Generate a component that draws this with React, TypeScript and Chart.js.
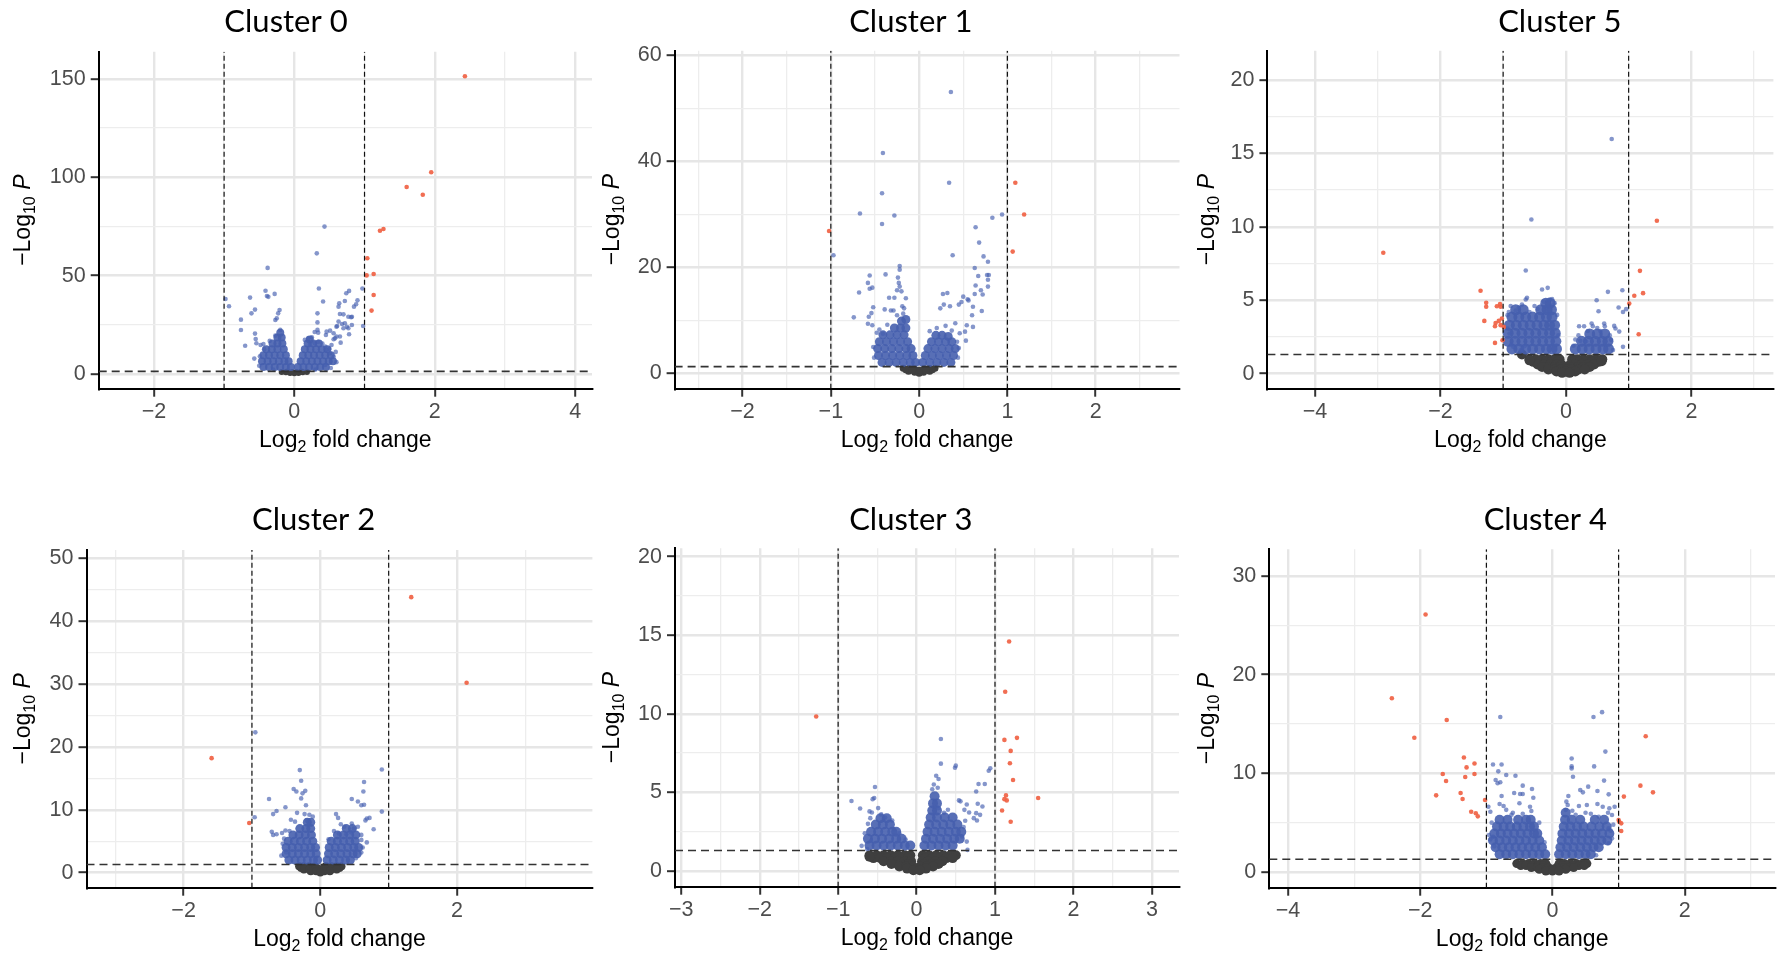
import React, { useEffect, useRef } from 'react';
import { Chart, registerables } from 'chart.js';
Chart.register(...registerables);

type P = [number, number];

// ---------------- thresholds ----------------
const FC_CUT = [-1, 1];
const P_CUT = 1.3;

// ---------------- Cluster 0 ----------------
const C0_RED: P[] = [[2.43,151.3],[1.95,102.5],[1.6,95.0],[1.83,91.1],[1.22,72.8],[1.27,73.7],[1.04,58.8],[1.03,50.1],[1.13,50.8],[1.13,40.1],[1.1,32.2]];
const C0_BLUE: P[] = [[0.43,74.9],[0.32,61.3],[-0.38,53.9],[-0.98,38.1],[-0.93,34.4],[-0.41,42.3],[-0.63,38.8],[-0.39,39.6],[-0.37,39.2],[-0.28,40.7],[-0.56,32.7],[-0.61,30.8],[-0.76,27.6],[-0.76,22.3],[-0.56,20.5],[-0.55,17.8],[-0.54,15.6],[-0.7,14.3],[-0.57,7.8],[-0.21,32.5],[-0.23,30.8],[-0.25,28.3],[-0.27,27.4],[-0.2,22.4],[-0.48,14.7],[-0.44,15.2],
[0.35,43.4],[0.41,36.8],[0.33,30.8],[0.33,26.2],[0.33,22.4],[0.97,43.4],[0.98,24.4],[0.78,42.2],[0.74,41.0],[0.9,37.4],[0.88,35.4],[0.72,37.1],[0.64,35.9],[0.63,34.2],[0.85,34.2],[0.65,30.5],[0.7,30.3],[0.81,28.8],[0.63,26.6],[0.72,25.8],[0.61,24.4],[0.77,23.2],[0.78,20.2],[0.51,22.0],[0.29,21.3],[0.45,19.8],[0.65,19.0],[0.58,18.1],[0.66,15.9],[0.34,21.0],[0.46,21.5],[0.2,18.1],[0.25,18.6],[0.56,20.7],[0.6,19.0],[0.56,17.6],[0.6,24.0],[0.77,29.1],[0.82,29.1],[0.68,25.4],[0.75,24.0],[0.7,23.2],[0.82,24.9],[0.44,13.9],[0.53,14.7],[0.46,12.2],[0.51,10.5],[0.56,8.8],[0.44,4.6],[0.15,17.3],[0.22,14.7],[0.29,15.6],[0.34,16.4],
[-0.5,4.2],[-0.49,9.0],[-0.43,12.6],[-0.35,16.8],[-0.27,19.5],[0.6,6.0],[0.59,11.2],[0.52,3.0],[0.4,15.5],[0.5,12.8],[-0.3,2.2],[0.3,2.2]];
const C0_CORE: P[] = [[-0.44,3.5],[-0.36,3.5],[-0.28,3.5],[-0.2,3.5],[-0.12,3.5],[-0.05,3.5],
[-0.46,6.5],[-0.38,6.5],[-0.3,6.5],[-0.22,6.5],[-0.14,6.5],[-0.08,6.5],
[-0.44,9.5],[-0.36,9.5],[-0.28,9.5],[-0.2,9.5],[-0.12,9.5],
[-0.4,12.5],[-0.32,12.5],[-0.24,12.5],[-0.15,12.5],
[-0.31,15.5],[-0.24,15.5],[-0.17,15.5],
[-0.24,18.5],[-0.18,18.5],[-0.2,21],
[0.05,3.5],[0.13,3.5],[0.21,3.5],[0.29,3.5],[0.37,3.5],[0.45,3.5],
[0.09,6.5],[0.17,6.5],[0.25,6.5],[0.33,6.5],[0.41,6.5],[0.49,6.5],[0.55,6.5],
[0.12,9.5],[0.2,9.5],[0.28,9.5],[0.36,9.5],[0.44,9.5],[0.52,9.5],
[0.15,12.5],[0.23,12.5],[0.31,12.5],[0.39,12.5],[0.47,12.5],
[0.19,15.5],[0.27,15.5],[0.35,15.5],[0.22,17.5]];
const C0_GREY: P[] = [[-0.18,1.0],[-0.12,0.8],[-0.06,0.5],[0,0.3],[0.06,0.5],[0.12,0.8],[0.18,1.0],[-0.1,1.2],[0.1,1.2],[-0.03,1.0],[0.03,1.0]];
const C0_XMAJOR = [-2, 0, 2, 4];
const C0_XMINOR = [-1, 1, 3];
const C0_YMAJOR = [0, 50, 100, 150];
const C0_YMINOR = [25, 75, 125];

// ---------------- Cluster 1 ----------------
const C1_RED: P[] = [[-1.02,26.9],[1.09,36.0],[1.19,30.0],[1.06,23.0]];
const C1_BLUE: P[] = [[0.36,53.1],[-0.41,41.6],[0.34,36.0],[-0.42,34.0],[-0.67,30.2],[-0.28,29.8],[-0.42,28.2],[-0.97,22.3],[0.38,22.3],[0.94,30.0],[0.83,29.4],[0.64,27.6],[0.68,24.7],[0.73,22.1],[0.78,21.1],[0.63,19.9],[0.77,18.6],[0.79,18.6],[0.67,18.4],[0.78,17.7],[0.64,16.6],[0.78,16.4],[0.7,15.7],[0.72,14.9],[0.63,15.0],[0.55,14.0],[0.56,13.8],[0.5,14.5],[0.48,13.5],[0.45,13.0],[0.32,15.2],[0.27,15.0],[0.28,13.0],[0.35,12.7],[0.24,12.3],[0.61,12.6],[0.6,11.0],[0.71,11.8],[0.61,8.8],[0.54,9.1],[0.52,7.9],[0.46,7.6],[0.53,6.2],
[-0.22,20.3],[-0.22,19.6],[-0.38,18.7],[-0.56,18.5],[-0.58,17.1],[-0.56,16.0],[-0.53,16.2],[-0.68,15.3],[-0.24,18.1],[-0.23,17.1],[-0.25,15.7],[-0.22,16.4],[-0.2,15.5],[-0.34,14.3],[-0.28,14.3],[-0.15,14.2],[-0.39,12.1],[-0.32,11.9],[-0.29,11.9],[-0.19,12.7],[-0.17,12.3],[-0.52,12.5],[-0.54,11.4],[-0.74,10.6],[-0.57,10.7],[-0.58,9.4],[-0.53,9.1],[-0.48,7.7],[-0.41,7.5],
[-0.52,5.0],[-0.51,3.0],[0.44,3.0],[0.43,6.0],[0.37,8.1],[0.41,9.5],[0.3,9.0],[0.2,8.6],[-0.36,9.2],[-0.45,8.3],[-0.25,11.0],[-0.18,11.3],[0.12,8.0],[0.45,4.8]];
const C1_CORE: P[] = [[-0.42,2.1],[-0.34,2.1],[-0.26,2.1],[-0.18,2.1],[-0.1,2.1],[-0.04,2.1],
[-0.46,3.4],[-0.38,3.4],[-0.3,3.4],[-0.22,3.4],[-0.14,3.4],[-0.07,3.4],
[-0.47,4.7],[-0.39,4.7],[-0.31,4.7],[-0.23,4.7],[-0.15,4.7],[-0.09,4.7],
[-0.45,6.0],[-0.37,6.0],[-0.29,6.0],[-0.21,6.0],[-0.13,6.0],
[-0.41,7.3],[-0.33,7.3],[-0.25,7.3],[-0.17,7.3],
[-0.28,8.6],[-0.21,8.6],[-0.15,8.6],[-0.2,9.9],[-0.15,10.2],
[0.04,2.1],[0.12,2.1],[0.2,2.1],[0.28,2.1],[0.36,2.1],
[0.07,3.4],[0.15,3.4],[0.23,3.4],[0.31,3.4],[0.39,3.4],
[0.1,4.7],[0.18,4.7],[0.26,4.7],[0.34,4.7],[0.41,4.7],
[0.14,6.0],[0.22,6.0],[0.3,6.0],[0.37,6.0],
[0.19,7.2],[0.26,7.2],[0.33,7.0]];
const C1_GREY: P[] = [[-0.18,1.0],[-0.12,0.95],[-0.06,0.9],[0.06,0.9],[0.12,0.95],[0.18,1.0],[-0.12,0.45],[-0.05,0.25],[0.05,0.25],[0.12,0.45],[0,0.05],[-0.01,0.6],[0.01,0.6],[-0.15,0.7],[0.15,0.7],[-0.08,0.6],[0.08,0.6]];
const C1_XMAJOR = [-2, -1, 0, 1, 2];
const C1_XMINOR = [-2.5, -1.5, -0.5, 0.5, 1.5, 2.5];
const C1_YMAJOR = [0, 20, 40, 60];
const C1_YMINOR = [10, 30, 50];

// ---------------- Cluster 5 ----------------
const C5_RED: P[] = [[-2.91,8.23],[1.45,10.41],[1.18,7.0],[1.23,5.48],[1.09,5.3],[1.01,4.77],[1.16,2.68],[-1.36,5.64],[-1.27,4.82],[-1.27,4.55],[-1.1,4.59],[-1.05,4.73],[-1.04,4.55],[-1.3,3.59],[-1.12,3.45],[-1.07,3.59],[-1.02,3.75],[-1.04,3.3],[-1.13,3.23],[-0.99,3.18],[-1.13,2.09],[-1.01,2.27]];
const C5_BLUE: P[] = [[0.73,15.98],[-0.55,10.5],[-0.64,7.02],[-0.38,5.73],[-0.29,5.84],[-0.62,5.16],[-0.64,5.05],[-0.26,5.05],[-0.22,5.07],[0.67,5.57],[0.9,5.68],[0.49,5.0],[0.52,4.25],[0.84,4.5],[0.91,4.2],[0.96,4.39],[0.21,3.23],[0.29,3.23],[0.41,3.41],[0.43,3.23],[0.61,3.41],[0.62,3.23],[0.77,3.25],[0.79,3.07],[0.85,2.86],[0.91,1.82],[0.15,2.32],[0.23,2.23],[0.32,2.2],[-0.91,4.2],[-0.93,3.98],[-0.93,3.07],[-0.9,2.73],[-0.87,1.98],[-0.84,1.82],[-0.72,1.59],[-0.66,1.86],
[-0.75,4.5],[-0.8,4.3],[-0.5,4.6],[-0.45,4.4],[-0.35,4.9],[-0.18,4.8],[0.55,2.9],[0.7,2.6],[0.75,1.6],[0.35,2.9],[0.5,3.1],[-0.7,4.7],[-0.88,4.6],[-0.58,4.2],[0.12,1.9],[0.2,2.6],[0.72,2.3],[-0.14,4.0],[-0.12,2.6]];
const C5_CORE: P[] = [[-0.86,1.68],[-0.75,1.68],[-0.64,1.68],[-0.53,1.68],[-0.42,1.68],[-0.31,1.68],[-0.22,1.68],[-0.15,1.68],
[-0.92,2.2],[-0.81,2.2],[-0.7,2.2],[-0.59,2.2],[-0.48,2.2],[-0.37,2.2],[-0.26,2.2],[-0.16,2.2],
[-0.92,2.75],[-0.81,2.75],[-0.7,2.75],[-0.59,2.75],[-0.48,2.75],[-0.37,2.75],[-0.26,2.75],[-0.17,2.75],
[-0.9,3.3],[-0.79,3.3],[-0.68,3.3],[-0.57,3.3],[-0.46,3.3],[-0.35,3.3],[-0.26,3.3],[-0.18,3.3],
[-0.86,3.85],[-0.75,3.85],[-0.64,3.85],[-0.53,3.85],[-0.42,3.85],[-0.31,3.85],[-0.22,3.85],
[-0.8,4.35],[-0.68,4.35],[-0.4,4.35],[-0.3,4.35],[-0.23,4.35],[-0.32,4.8],[-0.25,4.8],
[0.15,1.68],[0.26,1.68],[0.37,1.68],[0.48,1.68],[0.59,1.68],[0.68,1.68],
[0.25,2.2],[0.36,2.2],[0.47,2.2],[0.58,2.2],[0.67,2.2],
[0.38,2.7],[0.5,2.7],[0.62,2.7]];
const C5_GREY: P[] = [[-0.58,0.98],[-0.48,0.98],[-0.38,0.98],[-0.28,0.98],[-0.18,0.98],[-0.1,0.98],[0.1,0.98],[0.18,0.98],[0.28,0.98],[0.38,0.98],[0.48,0.98],[0.58,0.98],
[-0.52,0.8],[-0.42,0.8],[-0.32,0.8],[-0.22,0.8],[-0.13,0.8],[0.13,0.8],[0.22,0.8],[0.32,0.8],[0.42,0.8],[0.52,0.8],
[-0.45,0.62],[-0.35,0.62],[-0.25,0.62],[-0.15,0.62],[-0.07,0.62],[0.07,0.62],[0.15,0.62],[0.25,0.62],[0.35,0.62],[0.45,0.62],
[-0.38,0.45],[-0.28,0.45],[-0.18,0.45],[-0.1,0.45],[0.1,0.45],[0.18,0.45],[0.28,0.45],[0.38,0.45],
[-0.28,0.28],[-0.18,0.28],[-0.08,0.28],[0.02,0.28],[0.1,0.28],[0.2,0.28],[0.3,0.28],[-0.15,0.15],[0,0.15],[0.15,0.15],[-0.06,0.05],[0.06,0.05],
[-0.7,1.3],[-0.58,0.9],[0.57,0.84]];
const C5_XMAJOR = [-4, -2, 0, 2];
const C5_XMINOR = [-3, -1, 1, 3];
const C5_YMAJOR = [0, 5, 10, 15, 20];
const C5_YMINOR = [2.5, 7.5, 12.5, 17.5];

// ---------------- Cluster 2 ----------------
const C2_RED: P[] = [[1.33,43.8],[2.14,30.2],[-1.59,18.2],[-1.04,7.9]];
const C2_BLUE: P[] = [[-0.95,22.3],[-0.96,8.8],[-0.3,16.3],[-0.28,14.6],[-0.39,13.3],[-0.35,12.9],[-0.22,13.0],[-0.26,12.6],[-0.75,11.7],[-0.51,10.4],[-0.28,11.8],[-0.21,10.7],[-0.64,9.8],[-0.69,9.3],[-0.34,9.5],[-0.23,9.3],[-0.16,9.2],[-0.11,8.9],[-0.43,8.4],[-0.37,8.1],[-0.71,6.5],[-0.69,6.0],[-0.64,6.1],[-0.56,6.3],[-0.51,6.7],[-0.57,2.7],[-0.5,3.2],
[0.9,16.4],[0.64,14.4],[0.63,12.9],[0.46,11.7],[0.55,11.3],[0.6,10.7],[0.64,10.8],[0.9,9.7],[0.23,9.3],[0.26,8.7],[0.68,8.6],[0.72,8.7],[0.66,8.3],[0.78,6.9],[0.55,7.3],[0.6,6.0],[0.68,4.8],[0.6,3.2],[0.3,7.7],[0.35,7.3],[0.46,7.8],[0.49,7.0],[0.27,6.2],[0.38,6.1],[0.45,6.4],[0.12,5.3],
[-0.55,4.6],[-0.53,5.4],[-0.45,6.6],[0.6,5.2],[0.62,4.0],[0.52,2.3],[-0.2,8.3],[0.2,6.6]];
const C2_CORE: P[] = [[-0.46,2.0],[-0.37,2.0],[-0.28,2.0],[-0.19,2.0],[-0.1,2.0],[-0.04,2.0],
[-0.5,3.0],[-0.41,3.0],[-0.32,3.0],[-0.23,3.0],[-0.14,3.0],[-0.06,3.0],
[-0.5,4.0],[-0.41,4.0],[-0.32,4.0],[-0.23,4.0],[-0.14,4.0],[-0.07,4.0],
[-0.47,5.0],[-0.38,5.0],[-0.29,5.0],[-0.2,5.0],[-0.11,5.0],
[-0.4,6.0],[-0.31,6.0],[-0.22,6.0],[-0.13,6.0],
[-0.3,7.0],[-0.21,7.0],[-0.14,7.0],[-0.19,8.0],[-0.14,8.0],
[0.1,2.0],[0.19,2.0],[0.28,2.0],[0.37,2.0],[0.44,2.0],
[0.12,3.0],[0.21,3.0],[0.3,3.0],[0.39,3.0],[0.48,3.0],[0.54,3.0],
[0.13,4.0],[0.22,4.0],[0.31,4.0],[0.4,4.0],[0.49,4.0],[0.56,4.0],
[0.16,5.0],[0.25,5.0],[0.34,5.0],[0.43,5.0],[0.51,5.0],
[0.25,6.0],[0.34,6.0],[0.43,6.0],[0.52,6.0],[0.38,7.0],[0.47,7.0]];
const C2_GREY: P[] = [[-0.31,1.0],[-0.24,1.0],[-0.16,1.0],[-0.08,1.0],[0.08,1.0],[0.16,1.0],[0.24,1.0],[0.31,1.0],
[-0.28,0.75],[-0.2,0.75],[-0.12,0.75],[-0.05,0.75],[0.05,0.75],[0.12,0.75],[0.2,0.75],[0.28,0.75],
[-0.24,0.5],[-0.16,0.5],[-0.08,0.5],[0,0.5],[0.08,0.5],[0.16,0.5],[0.24,0.5],
[-0.14,0.2],[-0.06,0.2],[0.06,0.2],[0.14,0.2],[0,0.0]];
const C2_XMAJOR = [-2, 0, 2];
const C2_XMINOR = [-3, -1, 1, 3];
const C2_YMAJOR = [0, 10, 20, 30, 40, 50];
const C2_YMINOR = [5, 15, 25, 35, 45];

// ---------------- Cluster 3 ----------------
const C3_RED: P[] = [[-1.28,9.83],[1.18,14.6],[1.13,11.4],[1.12,8.34],[1.28,8.47],[1.2,7.64],[1.19,6.85],[1.23,5.79],[1.14,4.81],[1.12,4.57],[1.15,4.49],[1.55,4.64],[1.09,3.85],[1.2,3.13]];
const C3_BLUE: P[] = [[0.31,8.4],[0.31,6.83],[0.49,6.57],[0.5,6.7],[0.92,6.38],[0.94,6.53],[0.25,6.06],[0.28,5.85],[0.79,5.53],[0.87,5.53],[0.76,5.06],[-0.53,5.34],[-0.56,4.57],[-0.54,4.64],[-0.83,4.45],[-0.72,3.98],[-0.6,3.79],[-0.57,3.72],[-0.49,4.0],[-0.59,3.36],[0.54,4.49],[0.56,4.43],[0.64,4.23],[0.61,3.89],[0.67,3.72],[0.78,4.28],[0.84,4.1],[0.76,3.68],[0.81,3.57],[0.73,3.36],[0.77,3.21],[-0.31,3.21],[-0.7,1.6],[-0.63,1.4],[0.64,1.87],[0.65,1.34],[-0.58,1.91],
[0.22,5.5],[0.2,5.2],[0.27,5.3],[-0.45,3.6],[-0.4,3.4],[0.6,2.8],[0.62,3.2],[-0.66,2.4],[-0.62,3.0],[0.58,2.2],[-0.22,2.4],[0.28,4.0],[0.4,3.9],[-0.14,2.0],[0.35,3.7]];
const C3_CORE: P[] = [[-0.6,1.62],[-0.51,1.62],[-0.42,1.62],[-0.33,1.62],[-0.24,1.62],[-0.15,1.62],[-0.08,1.62],
[-0.62,2.05],[-0.53,2.05],[-0.44,2.05],[-0.35,2.05],[-0.26,2.05],[-0.19,2.05],
[-0.58,2.5],[-0.49,2.5],[-0.4,2.5],[-0.31,2.5],[-0.26,2.5],
[-0.52,2.95],[-0.43,2.95],[-0.34,2.95],[-0.46,3.35],[-0.38,3.35],
[0.1,1.62],[0.19,1.62],[0.28,1.62],[0.37,1.62],[0.46,1.62],
[0.12,2.05],[0.21,2.05],[0.3,2.05],[0.39,2.05],[0.48,2.05],[0.55,2.05],
[0.14,2.5],[0.23,2.5],[0.32,2.5],[0.41,2.5],[0.5,2.5],[0.57,2.5],
[0.16,2.95],[0.25,2.95],[0.34,2.95],[0.43,2.95],[0.52,2.95],
[0.18,3.4],[0.26,3.4],[0.36,3.4],[0.46,3.4],
[0.2,3.85],[0.26,3.85],[0.21,4.3],[0.26,4.3],[0.23,4.75]];
const C3_GREY: P[] = [[-0.6,1.0],[-0.51,1.0],[-0.42,1.0],[-0.33,1.0],[-0.24,1.0],[-0.15,1.0],[-0.08,1.0],[0.08,1.0],[0.16,1.0],[0.25,1.0],[0.34,1.0],[0.43,1.0],[0.5,1.0],
[-0.55,0.82],[-0.46,0.82],[-0.37,0.82],[-0.28,0.82],[-0.19,0.82],[-0.11,0.82],[0.11,0.82],[0.2,0.82],[0.29,0.82],[0.38,0.82],[0.46,0.82],
[-0.42,0.62],[-0.33,0.62],[-0.24,0.62],[-0.15,0.62],[-0.07,0.62],[0.07,0.62],[0.15,0.62],[0.24,0.62],[0.33,0.62],
[-0.32,0.45],[-0.2,0.45],[-0.1,0.45],[0.1,0.45],[0.19,0.45],[0.28,0.45],
[-0.22,0.28],[-0.13,0.28],[-0.05,0.28],[0.05,0.28],[0.13,0.28],[0.21,0.28],[-0.12,0.15],[0,0.15],[0.12,0.15],[-0.04,0.05],[0.04,0.05],[-0.6,0.9]];
const C3_XMAJOR = [-3, -2, -1, 0, 1, 2, 3];
const C3_XMINOR = [-2.5, -1.5, -0.5, 0.5, 1.5, 2.5];
const C3_YMAJOR = [0, 5, 10, 15, 20];
const C3_YMINOR = [2.5, 7.5, 12.5, 17.5];

// ---------------- Cluster 4 ----------------
const C4_RED: P[] = [[-1.92,26.1],[-2.43,17.6],[-1.6,15.4],[-2.09,13.6],[-1.34,11.6],[-1.18,11.0],[-1.3,10.6],[-1.66,9.93],[-1.18,9.93],[-1.32,9.63],[-1.61,9.22],[-1.39,8.0],[-1.76,7.77],[-1.36,7.4],[-1.02,7.3],[-1.23,6.11],[-1.16,5.95],[-1.13,5.64],[1.41,13.75],[1.33,8.75],[1.52,8.07],[1.08,7.64],[1.0,5.27],[1.04,4.93],[1.04,4.16],[1.01,5.1]];
const C4_BLUE: P[] = [[0.75,16.2],[0.62,15.7],[-0.79,15.7],[0.8,12.2],[0.29,11.5],[0.29,10.7],[0.29,10.5],[0.63,10.7],[-0.9,10.9],[-0.77,10.9],[-0.82,10.2],[-0.7,9.83],[-0.56,9.76],[0.31,9.66],[0.78,9.26],[-0.86,9.32],[-0.79,9.09],[-0.83,8.99],[-0.45,8.75],[-0.31,8.41],[0.54,8.65],[0.42,8.31],[0.46,8.07],[-0.58,8.0],[-0.49,7.91],[-0.77,7.7],[0.68,8.21],[0.85,7.87],[0.24,7.7],[0.21,7.13],[0.23,6.79],[-0.45,7.91],[-0.29,7.53],[-0.97,6.62],[-0.94,6.11],[-0.8,6.89],[-0.74,6.69],[-0.5,6.96],[-0.34,6.62],[-0.32,6.18],[0.4,6.69],[0.52,6.79],[0.68,6.89],[0.76,6.62],[0.86,6.45],[0.94,6.62],[0.84,6.01],[0.9,5.78],[0.85,4.43],[0.88,4.19],[0.9,3.41],[0.85,2.91],[-0.96,3.75],[-0.94,3.31],[-0.9,3.58],
[-0.6,6.0],[-0.7,6.3],[0.3,6.2],[0.5,6.0],[0.2,6.3],[0.35,5.8],[-0.92,5.0],[-0.88,2.6],[0.92,4.8],[0.66,1.7],[-0.45,5.9],[0.58,5.9],[-0.2,5.0],[-0.12,3.0],[0.7,5.6],[-0.62,5.8]];
const C4_CORE: P[] = [[-0.8,1.8],[-0.7,1.8],[-0.6,1.8],[-0.5,1.8],[-0.4,1.8],[-0.3,1.8],[-0.2,1.8],[-0.11,1.8],
[-0.86,2.5],[-0.76,2.5],[-0.66,2.5],[-0.56,2.5],[-0.46,2.5],[-0.36,2.5],[-0.26,2.5],[-0.16,2.5],
[-0.9,3.2],[-0.8,3.2],[-0.7,3.2],[-0.6,3.2],[-0.5,3.2],[-0.4,3.2],[-0.3,3.2],[-0.2,3.2],
[-0.88,3.9],[-0.78,3.9],[-0.68,3.9],[-0.58,3.9],[-0.48,3.9],[-0.38,3.9],[-0.28,3.9],[-0.23,3.9],
[-0.84,4.6],[-0.74,4.6],[-0.64,4.6],[-0.54,4.6],[-0.44,4.6],[-0.34,4.6],[-0.28,4.6],
[-0.8,5.3],[-0.68,5.3],[-0.52,5.3],[-0.4,5.3],[-0.33,5.3],
[0.1,1.8],[0.2,1.8],[0.3,1.8],[0.4,1.8],[0.5,1.8],[0.58,1.8],
[0.12,2.5],[0.22,2.5],[0.32,2.5],[0.42,2.5],[0.52,2.5],[0.62,2.5],[0.7,2.5],
[0.14,3.2],[0.24,3.2],[0.34,3.2],[0.44,3.2],[0.54,3.2],[0.64,3.2],[0.74,3.2],[0.83,3.2],
[0.15,3.9],[0.25,3.9],[0.35,3.9],[0.45,3.9],[0.55,3.9],[0.65,3.9],[0.75,3.9],[0.86,3.9],
[0.17,4.6],[0.27,4.6],[0.37,4.6],[0.47,4.6],[0.59,4.6],[0.71,4.6],[0.82,4.6],
[0.19,5.3],[0.29,5.3],[0.42,5.3],[0.64,5.3],[0.78,5.3],[0.2,6.0]];
const C4_GREY: P[] = [[-0.54,0.85],[-0.45,0.85],[-0.36,0.85],[-0.27,0.85],[-0.18,0.85],[-0.1,0.85],[0.1,0.85],[0.18,0.85],[0.27,0.85],[0.36,0.85],[0.45,0.85],[0.52,0.85],
[-0.48,0.65],[-0.4,0.65],[-0.31,0.65],[-0.22,0.65],[-0.14,0.65],[0.14,0.65],[0.22,0.65],[0.31,0.65],[0.4,0.65],[0.48,0.65],
[-0.32,0.45],[-0.23,0.45],[-0.14,0.45],[-0.06,0.45],[0.06,0.45],[0.14,0.45],[0.23,0.45],[0.32,0.45],
[-0.2,0.28],[-0.1,0.28],[0,0.28],[0.1,0.28],[0.2,0.28],[-0.1,0.1],[0,0.1],[0.1,0.1]];
const C4_XMAJOR = [-4, -2, 0, 2];
const C4_XMINOR = [-3, -1, 1, 3];
const C4_YMAJOR = [0, 10, 20, 30];
const C4_YMINOR = [5, 15, 25];

// ---------------- styles ----------------
const COL_BLUE = 'rgba(70,95,176,0.66)';
const COL_CORE = 'rgba(70,95,174,0.9)';
const COL_GREY = '#3f3f3f';
const COL_RED = 'rgba(240,98,68,0.92)';
const TICK_FONT = '"Liberation Sans", Arial, Helvetica, sans-serif';
const TITLE_FONT = 'Lato, Carlito, Calibri, "Open Sans", sans-serif';

type Panel = {
  title: string;
  red: P[]; blue: P[]; core: P[]; grey: P[];
  xMajor: number[]; xMinor: number[]; yMajor: number[]; yMinor: number[];
  xMin: number; xMax: number; yMin: number; yMax: number;
  box: { x: number; y: number; w: number; h: number };
  plot: { l: number; t: number; r: number; b: number };
  titleX: number; titleY: number; yTitleX: number;
  coreR: number; greyR: number;
};

const PANELS: Panel[] = [
  { title: 'Cluster 0', red: C0_RED, blue: C0_BLUE, core: C0_CORE, grey: C0_GREY,
    xMajor: C0_XMAJOR, xMinor: C0_XMINOR, yMajor: C0_YMAJOR, yMinor: C0_YMINOR,
    xMin: -2.786, xMax: 4.24, yMin: -7.5, yMax: 163.8,
    box: { x: 0, y: 0, w: 597, h: 465 }, plot: { l: 98.7, t: 51.7, r: 592, b: 388.7 },
    titleX: 286, titleY: 32.3, yTitleX: 22, coreR: 4, greyR: 3 },
  { title: 'Cluster 1', red: C1_RED, blue: C1_BLUE, core: C1_CORE, grey: C1_GREY,
    xMajor: C1_XMAJOR, xMinor: C1_XMINOR, yMajor: C1_YMAJOR, yMinor: C1_YMINOR,
    xMin: -2.77, xMax: 2.95, yMin: -2.86, yMax: 60.9,
    box: { x: 597, y: 0, w: 587, h: 465 }, plot: { l: 674.6, t: 50.7, r: 1180.6, b: 388.7 },
    titleX: 910.8, titleY: 32.3, yTitleX: 611, coreR: 4.5, greyR: 3.5 },
  { title: 'Cluster 5', red: C5_RED, blue: C5_BLUE, core: C5_CORE, grey: C5_GREY,
    xMajor: C5_XMAJOR, xMinor: C5_XMINOR, yMajor: C5_YMAJOR, yMinor: C5_YMINOR,
    xMin: -4.757, xMax: 3.307, yMin: -1.03, yMax: 22.0,
    box: { x: 1184, y: 0, w: 600, h: 465 }, plot: { l: 1267.4, t: 50.7, r: 1773.4, b: 388.7 },
    titleX: 1559.8, titleY: 32.3, yTitleX: 1206, coreR: 5.5, greyR: 5 },
  { title: 'Cluster 2', red: C2_RED, blue: C2_BLUE, core: C2_CORE, grey: C2_GREY,
    xMajor: C2_XMAJOR, xMinor: C2_XMINOR, yMajor: C2_YMAJOR, yMinor: C2_YMINOR,
    xMin: -3.42, xMax: 3.98, yMin: -2.4, yMax: 51.3,
    box: { x: 0, y: 470, w: 597, h: 485 }, plot: { l: 86.5, t: 550, r: 592.4, b: 887.7 },
    titleX: 313.6, titleY: 530, yTitleX: 22, coreR: 4.5, greyR: 4 },
  { title: 'Cluster 3', red: C3_RED, blue: C3_BLUE, core: C3_CORE, grey: C3_GREY,
    xMajor: C3_XMAJOR, xMinor: C3_XMINOR, yMajor: C3_YMAJOR, yMinor: C3_YMINOR,
    xMin: -3.08, xMax: 3.346, yMin: -1.0, yMax: 20.53,
    box: { x: 597, y: 470, w: 587, h: 485 }, plot: { l: 675, t: 548.3, r: 1180.6, b: 886.7 },
    titleX: 910.8, titleY: 530, yTitleX: 611, coreR: 5, greyR: 5 },
  { title: 'Cluster 4', red: C4_RED, blue: C4_BLUE, core: C4_CORE, grey: C4_GREY,
    xMajor: C4_XMAJOR, xMinor: C4_XMINOR, yMajor: C4_YMAJOR, yMinor: C4_YMINOR,
    xMin: -4.284, xMax: 3.366, yMin: -1.59, yMax: 32.7,
    box: { x: 1184, y: 470, w: 600, h: 485 }, plot: { l: 1269.3, t: 549.3, r: 1775, b: 887.7 },
    titleX: 1545.3, titleY: 530, yTitleX: 1206, coreR: 5, greyR: 4.5 },
];

type Run = { text: string; size: number; italic?: boolean; dy?: number };
const X_TITLE: Run[] = [{ text: 'Log', size: 23 }, { text: '2', size: 16, dy: 5 }, { text: ' fold change', size: 23 }];
const Y_TITLE: Run[] = [{ text: '\u2212Log', size: 23 }, { text: '10', size: 16, dy: 5 }, { text: ' ', size: 23 }, { text: 'P', size: 23, italic: true }];

function runFont(r: Run) {
  return `${r.italic ? 'italic ' : ''}${r.size}px ${TICK_FONT}`;
}
function drawRuns(ctx: CanvasRenderingContext2D, runs: Run[], cx: number, y: number) {
  const widths = runs.map((r) => { ctx.font = runFont(r); return ctx.measureText(r.text).width; });
  const total = widths.reduce((a, b) => a + b, 0);
  let x = cx - total / 2;
  runs.forEach((r, i) => { ctx.font = runFont(r); ctx.fillText(r.text, x, y + (r.dy || 0)); x += widths[i]; });
}

const fmt = (v: number) => (v < 0 ? '\u2212' + Math.abs(v) : String(v));

function buildConfig(p: Panel): any {
  const pts = (arr: P[]) => arr.map(([x, y]) => ({ x, y }));
  const dots = (arr: P[], color: string, r: number, order: number) => ({
    data: pts(arr), backgroundColor: color, borderWidth: 0, pointRadius: r, pointHoverRadius: r, order,
  });
  const vline = (x: number) => ({
    data: [{ x, y: p.yMin }, { x, y: p.yMax }], showLine: true, borderColor: '#111', borderWidth: 1.2,
    borderDash: [5, 3], pointRadius: 0, order: 0,
  });
  const hline = {
    data: [{ x: p.xMin, y: P_CUT }, { x: p.xMax, y: P_CUT }], showLine: true, borderColor: '#333', borderWidth: 1.6,
    borderDash: [8, 5], pointRadius: 0, order: 0,
  };
  const xAll = [...p.xMajor, ...p.xMinor].filter((v) => v >= p.xMin && v <= p.xMax).sort((a, b) => a - b);
  const yAll = [...p.yMajor, ...p.yMinor].filter((v) => v >= p.yMin && v <= p.yMax).sort((a, b) => a - b);
  const gridFor = (major: number[]) => ({
    color: (c: any) => (c.tick && major.includes(c.tick.value) ? '#e6e6e6' : '#ededed'),
    lineWidth: (c: any) => (c.tick && major.includes(c.tick.value) ? 2.4 : 1.3),
    tickColor: (c: any) => (c.tick && major.includes(c.tick.value) ? '#333' : 'rgba(0,0,0,0)'),
    tickLength: 8,
    tickWidth: 2,
    drawTicks: true,
  });
  const textPlugin = {
    id: 'panelText',
    afterDraw(chart: any) {
      const { ctx, chartArea } = chart;
      ctx.save();
      ctx.fillStyle = '#000';
      ctx.textBaseline = 'alphabetic';
      ctx.textAlign = 'center';
      ctx.font = `31px ${TITLE_FONT}`;
      ctx.fillText(p.title, p.titleX - p.box.x, p.titleY - p.box.y);
      ctx.textAlign = 'left';
      const cx = (chartArea.left + chartArea.right) / 2;
      drawRuns(ctx, X_TITLE, cx, chartArea.bottom + 58);
      const cy = (chartArea.top + chartArea.bottom) / 2;
      ctx.translate(p.yTitleX - p.box.x + 8, cy);
      ctx.rotate(-Math.PI / 2);
      drawRuns(ctx, Y_TITLE, 0, 0);
      ctx.restore();
    },
  };
  return {
    type: 'scatter',
    data: {
      datasets: [
        vline(FC_CUT[0]), vline(FC_CUT[1]), hline,
        dots(p.red, COL_RED, 2.3, 1),
        dots(p.blue, COL_BLUE, 2.3, 2),
        dots(p.core, COL_CORE, p.coreR, 3),
        dots(p.grey, COL_GREY, p.greyR, 4),
      ],
    },
    options: {
      animation: false,
      responsive: false,
      devicePixelRatio: 1,
      events: [],
      layout: { padding: { left: 0, bottom: 0, top: p.plot.t - p.box.y, right: p.box.x + p.box.w - p.plot.r } },
      plugins: { legend: { display: false }, tooltip: { enabled: false }, title: { display: false } },
      scales: {
        x: {
          type: 'linear', min: p.xMin, max: p.xMax,
          afterBuildTicks: (s: any) => { s.ticks = xAll.map((v) => ({ value: v })); },
          afterFit: (s: any) => { s.height = p.box.y + p.box.h - p.plot.b; },
          ticks: {
            autoSkip: false, maxRotation: 0, minRotation: 0, padding: 2, color: '#4d4d4d',
            font: { family: TICK_FONT, size: 21.5 },
            callback: (v: number) => (p.xMajor.includes(v) ? fmt(v) : ''),
          },
          grid: gridFor(p.xMajor),
          border: { display: true, color: '#000', width: 2 },
        },
        y: {
          type: 'linear', min: p.yMin, max: p.yMax,
          afterBuildTicks: (s: any) => { s.ticks = yAll.map((v) => ({ value: v })); },
          afterFit: (s: any) => { s.width = p.plot.l - p.box.x; },
          ticks: {
            autoSkip: false, padding: 5, color: '#4d4d4d',
            font: { family: TICK_FONT, size: 21.5 },
            callback: (v: number) => (p.yMajor.includes(v) ? fmt(v) : ''),
          },
          grid: gridFor(p.yMajor),
          border: { display: true, color: '#000', width: 2 },
        },
      },
    },
    plugins: [textPlugin],
  };
}

function PanelChart({ p }: { p: Panel }) {
  const ref = useRef<HTMLCanvasElement>(null);
  useEffect(() => {
    const chart = new Chart(ref.current as HTMLCanvasElement, buildConfig(p));
    return () => chart.destroy();
  }, [p]);
  return (
    <canvas
      ref={ref}
      width={p.box.w}
      height={p.box.h}
      style={{ position: 'absolute', left: p.box.x, top: p.box.y, width: p.box.w, height: p.box.h }}
    />
  );
}

export default function App() {
  return (
    <div style={{ position: 'absolute', left: 0, top: 0, width: 1784, height: 955, background: '#fff', overflow: 'hidden' }}>
      {PANELS.map((p) => (
        <PanelChart key={p.title} p={p} />
      ))}
    </div>
  );
}
